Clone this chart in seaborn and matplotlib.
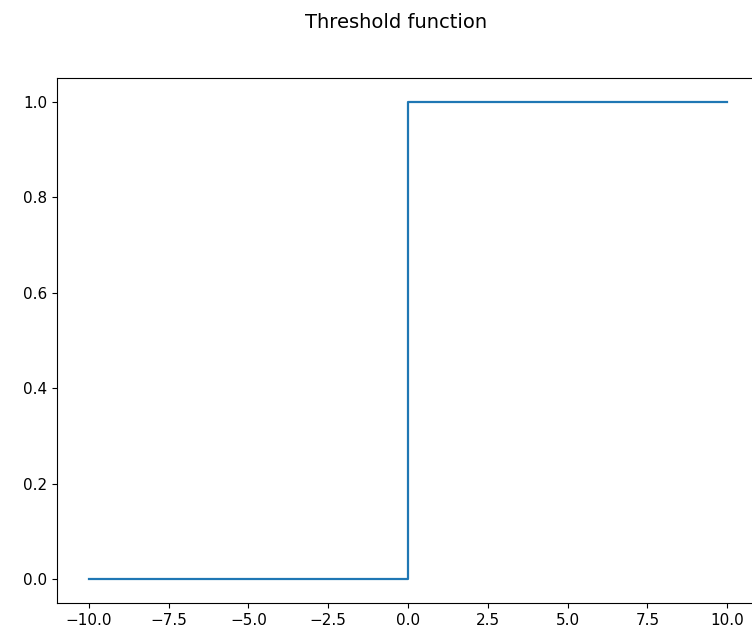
import matplotlib
matplotlib.use("Agg")
import matplotlib.pyplot as plt
import seaborn as sns
import pandas as pd

# step points of the threshold function
x_vals = [-10.0, 0.0, 0.0, 10.0]
y_vals = [0.0, 0.0, 1.0, 1.0]

df = pd.DataFrame({'x': x_vals, 'y': y_vals})

fig = plt.figure(figsize=(7.52, 6.36), dpi=100)
ax = fig.add_axes([57/752, 33/636, 702/752, 525/636])

sns.lineplot(data=df, x='x', y='y', sort=False, estimator=None, errorbar=None,
             ax=ax, color='#1f77b4', linewidth=1.6)
ax.set_xlabel('')
ax.set_ylabel('')
ax.set_xticks([-10, -7.5, -5, -2.5, 0, 2.5, 5, 7.5, 10])
ax.set_yticks([0, 0.2, 0.4, 0.6, 0.8, 1.0])
ax.tick_params(labelsize=11)

fig.text(396/752, 1 - 22/636, 'Threshold function', ha='center', va='center', fontsize=14)

fig.savefig('out.png', dpi=100)
